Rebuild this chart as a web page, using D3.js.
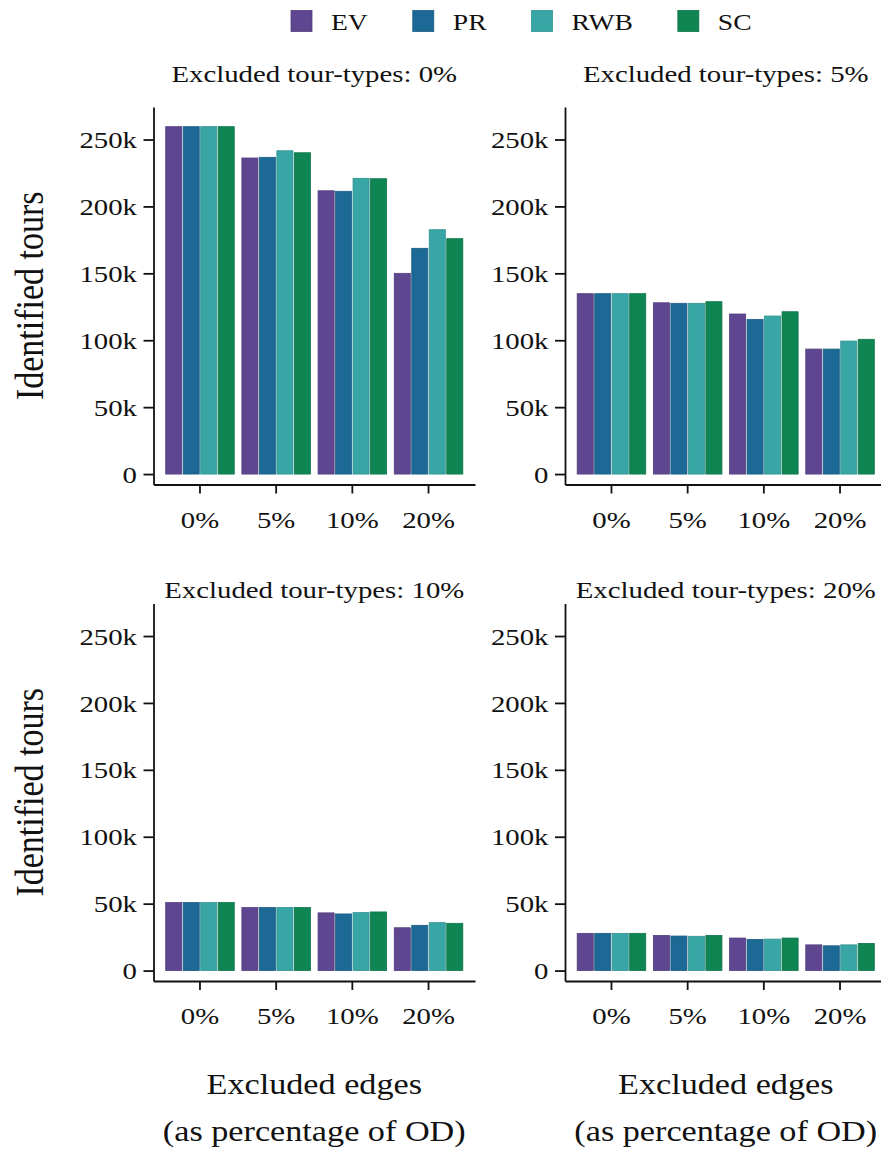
<!DOCTYPE html>
<html>
<head>
<meta charset="utf-8">
<script src="https://cdn.jsdelivr.net/npm/d3@7"></script>
<style>
  html, body { margin: 0; padding: 0; background: #fff; }
  svg { display: block; font-family: "Liberation Serif", "Times New Roman", serif; }
  text { fill: #111; }
</style>
</head>
<body>
<svg id="chart" width="881" height="1149"></svg>
<script>
// Series (methods) and categories
const series = ["EV", "PR", "RWB", "SC"];
const seriesColors = ["#5F4690", "#1D6996", "#38A6A5", "#0F8554"];
const edgeCats = ["0%", "5%", "10%", "20%"];
const yTicks = [0, 50000, 100000, 150000, 200000, 250000];

// Identified tours; rows = excluded edges (0%, 5%, 10%, 20%), columns = EV, PR, RWB, SC
const toursTT0 = [
  [259600, 259600, 259600, 259600],
  [236200, 236700, 241600, 240100],
  [211700, 211300, 221000, 220700],
  [150000, 168700, 182600, 175900]
];
const toursTT5 = [
  [134800, 134800, 134800, 134800],
  [128000, 127600, 127600, 128800],
  [119600, 115600, 118100, 121300],
  [93400, 93400, 99400, 100700]
];
const toursTT10 = [
  [50800, 50800, 50800, 50800],
  [47100, 47100, 47100, 47100],
  [43100, 42300, 43300, 43800],
  [32000, 33800, 35800, 35300]
];
const toursTT20 = [
  [27800, 27800, 27800, 27800],
  [26300, 25800, 25600, 26300],
  [24300, 23300, 23500, 24300],
  [19200, 18500, 19200, 20300]
];

const panelTitles = [
  "Excluded tour-types: 0%", "Excluded tour-types: 5%",
  "Excluded tour-types: 10%", "Excluded tour-types: 20%"
];
const panelData = [toursTT0, toursTT5, toursTT10, toursTT20];

// Layout
const SX = 1.2;                 // horizontal stretch applied to all text
const colX = [[153.5, 475], [565, 886.5]];
const rowY = [[107, 484.5], [603.5, 981]];
const titleBaseline = [82, 598];
const yDomain = [-7800, 274300];

const svg = d3.select("#chart");
const color = d3.scaleOrdinal().domain(series).range(seriesColors);

function label(parent, x, y, str, size, anchor, rotate) {
  const g = parent.append("g")
    .attr("transform", `translate(${x},${y}) scale(${SX},1)` + (rotate ? " rotate(-90)" : ""));
  g.append("text")
    .attr("text-anchor", anchor)
    .style("font-size", size + "px")
    .text(str);
  return g;
}

panelData.forEach((data, i) => {
  const col = i % 2, row = Math.floor(i / 2);
  const [left, right] = colX[col];
  const [top, bottom] = rowY[row];

  const x0 = d3.scaleBand().domain(edgeCats).range([left, right])
    .paddingInner(0.1).paddingOuter(0.16);
  const x1 = d3.scaleBand().domain(series).range([0, x0.bandwidth()]).paddingInner(0.08);
  const y = d3.scaleLinear().domain(yDomain).range([bottom, top]);

  const g = svg.append("g");

  // bars
  const groups = g.selectAll("g.grp")
    .data(data.map((vals, k) => ({ cat: edgeCats[k], vals })))
    .join("g")
    .attr("class", "grp")
    .attr("transform", d => `translate(${x0(d.cat)},0)`);

  groups.selectAll("rect")
    .data(d => d.vals.map((v, s) => ({ key: series[s], value: v })))
    .join("rect")
    .attr("x", d => x1(d.key))
    .attr("width", x1.bandwidth())
    .attr("y", d => y(d.value))
    .attr("height", d => y(0) - y(d.value))
    .attr("fill", d => color(d.key))
    .attr("stroke", d => d3.color(color(d.key)).darker(0.35))
    .attr("stroke-width", 0.8);

  // y axis
  const ya = g.append("g")
    .attr("transform", `translate(${left},0)`)
    .call(d3.axisLeft(y).tickValues(yTicks).tickSize(10).tickSizeOuter(0)
      .tickFormat(d => d === 0 ? "0" : (d / 1000) + "k"));
  ya.select(".domain").attr("stroke", "#111").attr("stroke-width", 1.8);
  ya.selectAll(".tick line").attr("stroke", "#111").attr("stroke-width", 1.8);
  ya.selectAll(".tick text")
    .attr("x", -16.5 / SX)
    .attr("dy", "0.34em")
    .attr("transform", `scale(${SX},1)`)
    .style("font-size", "24px")
    .style("font-family", "Liberation Serif, Times New Roman, serif")
    .attr("fill", "#111");

  // x axis
  const xa = g.append("g")
    .attr("transform", `translate(0,${bottom})`)
    .call(d3.axisBottom(x0).tickSize(9).tickSizeOuter(0));
  xa.select(".domain").attr("stroke", "#111").attr("stroke-width", 1.8);
  xa.selectAll(".tick line").attr("stroke", "#111").attr("stroke-width", 1.8);
  xa.selectAll(".tick text")
    .attr("y", 43.5)
    .attr("dy", 0)
    .attr("transform", `scale(${SX},1)`)
    .attr("x", 0)
    .style("font-size", "24px")
    .style("font-family", "Liberation Serif, Times New Roman, serif")
    .attr("fill", "#111");
  // keep tick labels centred under their ticks after stretching
  xa.selectAll(".tick text").each(function () {
    d3.select(this).attr("transform", `scale(${SX},1)`);
  });

  // panel title
  label(svg, (left + right) / 2, titleBaseline[row], panelTitles[i], 24, "middle");

  // y axis title on the left column
  if (col === 0) {
    label(svg, 43, (top + bottom) / 2, "Identified tours", 34, "middle", true);
  }

  // x axis title on the bottom row
  if (row === 1) {
    label(svg, (left + right) / 2, 1094, "Excluded edges", 28.5, "middle");
    label(svg, (left + right) / 2, 1141, "(as percentage of OD)", 28.5, "middle");
  }
});

// legend
const legend = svg.append("g");
let lx = 291;
series.forEach(s => {
  legend.append("rect")
    .attr("x", lx).attr("y", 10.5)
    .attr("width", 21).attr("height", 21)
    .attr("fill", color(s))
    .attr("stroke", d3.color(color(s)).darker(0.35))
    .attr("stroke-width", 0.8);
  const t = label(legend, lx + 40, 30, s, 23, "start");
  const w = t.select("text").node().getComputedTextLength() * SX;
  lx += 40 + w + 45;
});
</script>
</body>
</html>
